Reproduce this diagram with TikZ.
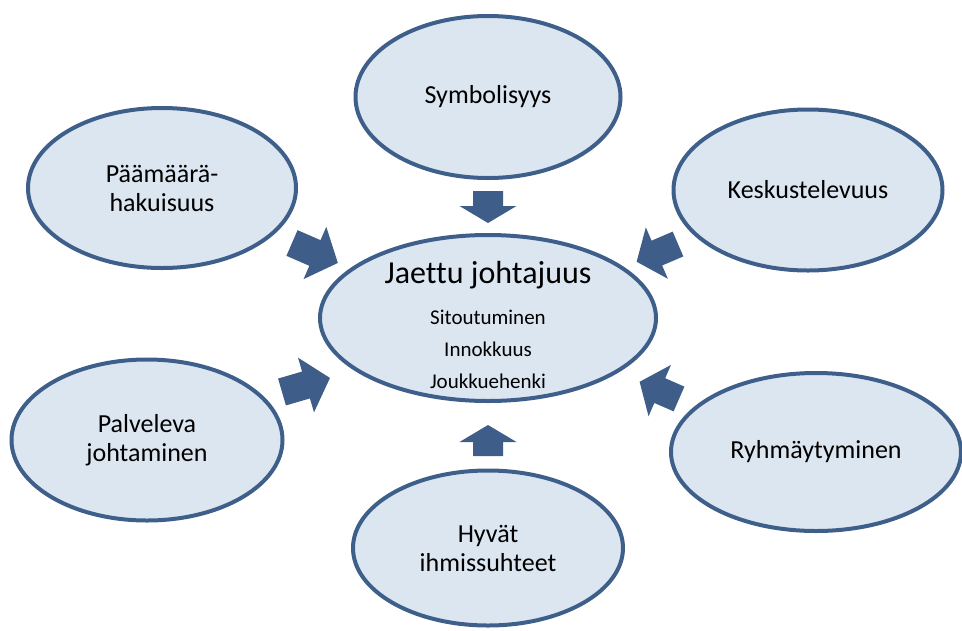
\documentclass[tikz,border=0pt]{standalone}
\usepackage{fontspec}
\setmainfont{Carlito}[Ligatures={NoCommon}]
\usetikzlibrary{shapes.geometric}
\definecolor{bubblefill}{HTML}{DCE6F1}
\definecolor{bubbleline}{HTML}{3F5F8B}
\definecolor{arrowfill}{HTML}{3F5D89}
\tikzset{
  bubble/.style={ellipse, draw=bubbleline, fill=bubblefill, line width=4pt,
    inner sep=0pt, align=center, font=\fontsize{26}{29}\selectfont},
  pics/blockarrow/.style n args={4}{code={
    \fill[arrowfill] (0,-#3) -- (#1-#2,-#3) -- (#1-#2,-#4) -- (#1,0)
      -- (#1-#2,#4) -- (#1-#2,#3) -- (0,#3) -- cycle;}}
}
\begin{document}
\begin{tikzpicture}[x=1pt,y=-1pt]
\useasboundingbox (0,0) rectangle (962,630);
% satellites
\node[bubble, minimum width=265, minimum height=162] (S) at (488,97) {Symbolisyys};
\node[bubble, minimum width=268, minimum height=160] (P) at (162,188) {Päämäärä-\\hakuisuus};
\node[bubble, minimum width=269, minimum height=161] (K) at (808,190) {Keskustelevuus};
\node[bubble, minimum width=271, minimum height=161] (V) at (147,440) {Palveleva\\johtaminen};
\node[bubble, minimum width=290, minimum height=158] (R) at (816,452) {Ryhmäytyminen};
\node[bubble, minimum width=270, minimum height=155] (H) at (488,548) {Hyvät\\ihmissuhteet};
% centre
\node[bubble, minimum width=336, minimum height=166] (C) at (488,318) {};
\node[align=center, inner sep=0pt, font=\fontsize{21}{32}\selectfont] (Ct) at (488,325)
  {{\fontsize{32}{32}\selectfont Jaettu johtajuus}\\[9pt]Sitoutuminen\\Innokkuus\\Joukkuehenki};
% block arrows
\pic[rotate=-90] (aS) at (488,191) {blockarrow={32}{17}{15}{28.5}};
\pic[rotate=90] (aH) at (488,456) {blockarrow={31}{17}{15}{28.5}};
\pic[rotate=-23.5] (aP) at (292,243) {blockarrow={50}{25}{14}{28.5}};
\pic[rotate=16.3] (aV) at (282,392) {blockarrow={50}{25}{14}{28.5}};
\pic[rotate=-156.8] (aK) at (678,244) {blockarrow={45}{22}{13.5}{28}};
\pic[rotate=156.4] (aR) at (679,399) {blockarrow={43}{22}{13.5}{28}};
\end{tikzpicture}
\end{document}
